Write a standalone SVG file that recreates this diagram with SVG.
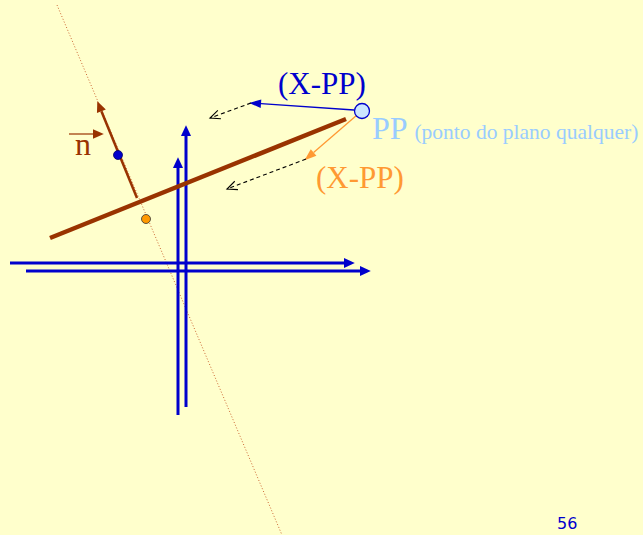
<svg xmlns="http://www.w3.org/2000/svg" width="643" height="535" viewBox="0 0 643 535">
<style>
.ax{stroke:#0000cc;stroke-width:3;fill:none}
.dash{stroke:#000;stroke-width:1.1;stroke-dasharray:4 3;fill:none}
.serif{font-family:"Liberation Serif","Times New Roman",serif}
</style>
<defs>
<marker id="ahBlue" markerUnits="userSpaceOnUse" markerWidth="12" markerHeight="12" viewBox="0 -5 10 10" refX="0" refY="0" orient="auto" overflow="visible"><path d="M0,-4.2 L9,0 L0,4.2 z" fill="#0000cc"/></marker>
<marker id="ahThinBlue" markerUnits="userSpaceOnUse" markerWidth="12" markerHeight="12" viewBox="0 -5 10 10" refX="0" refY="0" orient="auto" overflow="visible"><path d="M0,-3.6 L10,0 L0,3.6 z" fill="#0000cc"/></marker>
<marker id="ahOrange" markerUnits="userSpaceOnUse" markerWidth="12" markerHeight="12" viewBox="0 -5 10 10" refX="0" refY="0" orient="auto" overflow="visible"><path d="M0,-3.6 L10,0 L0,3.6 z" fill="#ff9933"/></marker>
<marker id="ahBrown" markerUnits="userSpaceOnUse" markerWidth="12" markerHeight="12" viewBox="0 -5 10 10" refX="0" refY="0" orient="auto" overflow="visible"><path d="M0,-4 L9,0 L0,4 z" fill="#993300"/></marker>
<marker id="ahOpen" markerUnits="userSpaceOnUse" markerWidth="14" markerHeight="14" viewBox="-12 -6 14 12" refX="0" refY="0" orient="auto" overflow="visible"><path d="M-10,-4.5 L0,0 L-10,4.5" fill="none" stroke="#000" stroke-width="1.1"/></marker>
</defs>
<rect width="643" height="535" fill="#ffffcc"/>
<g id="plane-trace">
<line x1="57" y1="5" x2="282" y2="535" stroke="#cc6633" stroke-width="1" stroke-dasharray="1 2"/>
</g>
<g id="connectors">
<line class="ax" x1="10" y1="263" x2="344" y2="263" marker-end="url(#ahBlue)"/>
<line class="ax" x1="26" y1="271" x2="360" y2="271" marker-end="url(#ahBlue)"/>
<line class="ax" x1="178" y1="415" x2="178" y2="168" marker-end="url(#ahBlue)"/>
<line class="ax" x1="186" y1="407" x2="186" y2="136" marker-end="url(#ahBlue)"/>
<line x1="50" y1="238" x2="346" y2="119" stroke="#993300" stroke-width="4.5"/>
<line x1="137" y1="198" x2="101.4" y2="111.3" stroke="#993300" stroke-width="2.5" marker-end="url(#ahBrown)"/>
<line x1="69" y1="134" x2="93" y2="134" stroke="#993300" stroke-width="1.2" marker-end="url(#ahBrown)"/>
<line x1="354" y1="110" x2="261" y2="103.7" stroke="#0000cc" stroke-width="1.3" marker-end="url(#ahThinBlue)"/>
<line x1="357" y1="115" x2="313.6" y2="152.5" stroke="#ff9933" stroke-width="1.3" marker-end="url(#ahOrange)"/>
<line class="dash" x1="251" y1="103" x2="210" y2="118" marker-end="url(#ahOpen)"/>
<line class="dash" x1="306" y1="159" x2="227" y2="189" marker-end="url(#ahOpen)"/>
</g>
<g id="point-n-blue"><circle cx="118" cy="155" r="4.5" fill="#0000cc" stroke="#000066" stroke-width="0.8"/></g>
<g id="point-n-orange"><circle cx="146" cy="219" r="4.5" fill="#ff9900" stroke="#333" stroke-width="0.8"/></g>
<g id="point-PP"><circle cx="362" cy="111" r="7.5" fill="#cce6ff" stroke="#0000cc" stroke-width="1.3"/></g>
<g id="labels">
<text class="serif" x="75" y="155" font-size="32" fill="#993300">n</text>
<text class="serif" x="278" y="94" font-size="31" fill="#0000cc">(X-PP)</text>
<text class="serif" x="316" y="188" font-size="31" fill="#ff9933">(X-PP)</text>
<text class="serif" x="372" y="139" font-size="32" fill="#99ccff">PP <tspan font-size="21.5">(ponto do plano qualquer)</tspan></text>
<text x="557" y="529" font-family="'DejaVu Sans','Liberation Sans',sans-serif" font-size="16" fill="#0000cc">56</text>
</g>
</svg>
